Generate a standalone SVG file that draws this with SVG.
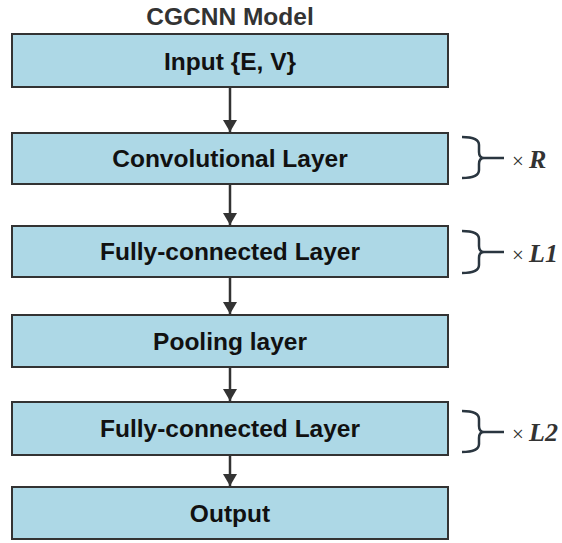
<svg xmlns="http://www.w3.org/2000/svg" width="562" height="543" viewBox="0 0 562 543">
<defs>
<style>
.box{fill:#add8e6;stroke:#333;stroke-width:2}
.lbl{font-family:"Liberation Sans",Arial,sans-serif;font-weight:bold;font-size:24.5px;fill:#111;text-anchor:middle}
.title{font-family:"Liberation Sans",Arial,sans-serif;font-weight:bold;font-size:24.5px;fill:#333;text-anchor:middle}
.conn{stroke:#333;stroke-width:2.5;fill:none}
.brace{stroke:#2a3640;stroke-width:2.5;fill:none}
.mult{font-family:"Liberation Serif","Times New Roman",serif;font-size:21px;fill:#333}
.var{font-style:italic;font-weight:bold;font-size:26px}
</style>
<marker id="ah" markerWidth="12" markerHeight="14" refX="12" refY="7" orient="auto" markerUnits="userSpaceOnUse" viewBox="0 0 12 14">
<path d="M0,0 L12,7 L0,14 Z" fill="#333"/>
</marker>
</defs>
<rect width="562" height="543" fill="#fff"/>
<text class="title" x="230" y="24.5">CGCNN Model</text>
<g id="input"><rect class="box" x="12" y="34" width="436" height="53"/><text class="lbl" x="230" y="69.5">Input {E, V}</text></g>
<g id="conv"><rect class="box" x="12" y="133" width="436" height="51"/><text class="lbl" x="230" y="167">Convolutional Layer</text></g>
<g id="fc1"><rect class="box" x="12" y="226" width="436" height="51"/><text class="lbl" x="230" y="260">Fully-connected Layer</text></g>
<g id="pool"><rect class="box" x="12" y="315" width="436" height="52"/><text class="lbl" x="230" y="350">Pooling layer</text></g>
<g id="fc2"><rect class="box" x="12" y="402" width="436" height="53"/><text class="lbl" x="230" y="437">Fully-connected Layer</text></g>
<g id="output"><rect class="box" x="12" y="487" width="436" height="52"/><text class="lbl" x="230" y="522">Output</text></g>
<g id="connectors">
<line class="conn" x1="230" y1="88" x2="230" y2="132" marker-end="url(#ah)"/>
<line class="conn" x1="230" y1="185" x2="230" y2="225" marker-end="url(#ah)"/>
<line class="conn" x1="230" y1="278" x2="230" y2="314" marker-end="url(#ah)"/>
<line class="conn" x1="230" y1="368" x2="230" y2="401" marker-end="url(#ah)"/>
<line class="conn" x1="230" y1="456" x2="230" y2="486" marker-end="url(#ah)"/>
</g>
<g id="repeatR">
<path class="brace" d="M462,137 Q479,137 479,145 L479,152 Q479,158 484,158 L504,158 M484,158 Q479,158 479,164 L479,170 Q479,178 462,178"/>
<text class="mult" x="512" y="168">× <tspan class="var">R</tspan></text>
</g>
<g id="repeatL1">
<path class="brace" d="M462,231 Q479,231 479,239 L479,246 Q479,252 484,252 L504,252 M484,252 Q479,252 479,258 L479,265 Q479,273 462,273"/>
<text class="mult" x="512" y="262">× <tspan class="var">L1</tspan></text>
</g>
<g id="repeatL2">
<path class="brace" d="M462,411 Q479,411 479,419 L479,426 Q479,432 484,432 L504,432 M484,432 Q479,432 479,438 L479,444 Q479,452 462,452"/>
<text class="mult" x="512" y="441">× <tspan class="var">L2</tspan></text>
</g>
</svg>
